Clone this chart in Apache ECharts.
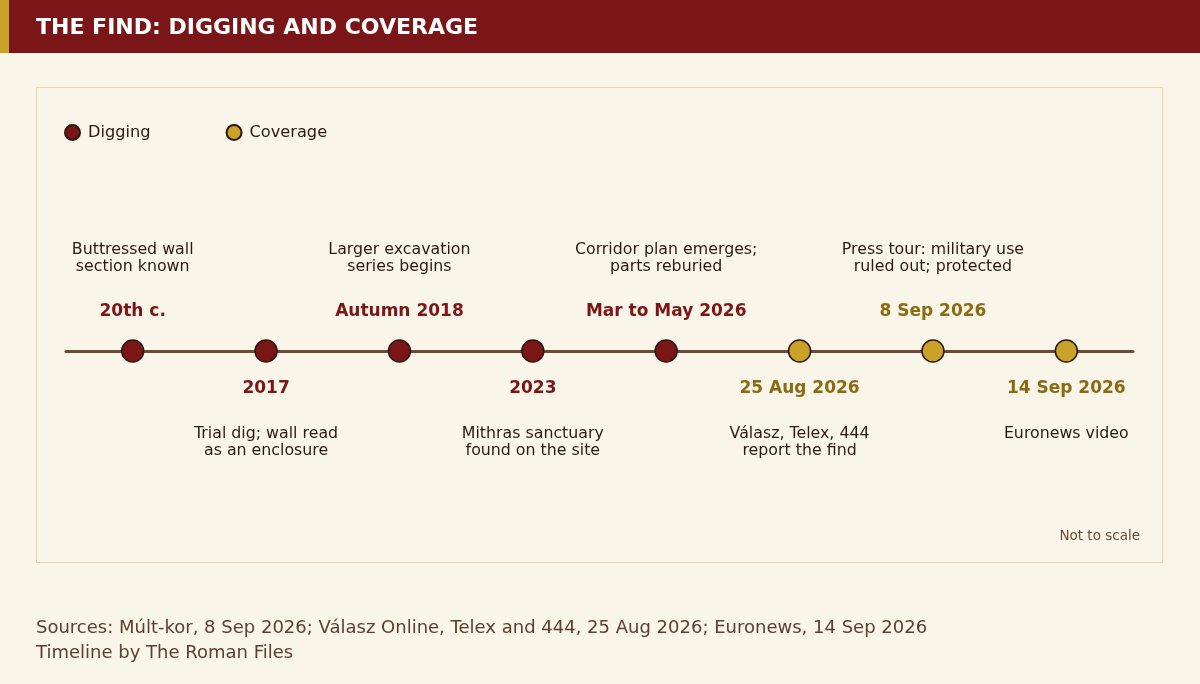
<!DOCTYPE html>
<html>
<head>
<meta charset="utf-8">
<script src="https://cdn.jsdelivr.net/npm/echarts@6/dist/echarts.min.js"></script>
<style>
html,body{margin:0;padding:0;background:#FAF5E9;}
#chart{width:1200px;height:684px;}
</style>
</head>
<body>
<div id="chart"></div>
<script>
const dates = ['20th c.', '2017', 'Autumn 2018', '2023', 'Mar to May 2026', '25 Aug 2026', '8 Sep 2026', '14 Sep 2026'];
const notes = [
  'Buttressed wall\nsection known',
  'Trial dig; wall read\nas an enclosure',
  'Larger excavation\nseries begins',
  'Mithras sanctuary\nfound on the site',
  'Corridor plan emerges;\nparts reburied',
  'Válasz, Telex, 444\nreport the find',
  'Press tour: military use\nruled out; protected',
  'Euronews video'
];
const kinds = ['Digging', 'Digging', 'Digging', 'Digging', 'Digging', 'Coverage', 'Coverage', 'Coverage'];
const groups = ['Digging', 'Coverage'];

const FONT = '"DejaVu Sans", Verdana, sans-serif';
const dotColor = { Digging: '#7B1618', Coverage: '#C9A227' };
const dateColor = { Digging: '#7B1618', Coverage: '#8A6A12' };
const noteColor = '#2A1A12';

function makeSeries(kind) {
  const data = [];
  dates.forEach((d, i) => {
    if (kinds[i] !== kind) return;
    const above = i % 2 === 0;
    data.push({
      value: [i, 0],
      label: {
        position: above ? 'top' : 'bottom',
        distance: above ? 18 : 16,
        formatter: above
          ? '{n|' + notes[i] + '}\n{g| }\n{d|' + dates[i] + '}'
          : '{d|' + dates[i] + '}\n{g2| }\n{n|' + notes[i] + '}'
      }
    });
  });
  return {
    name: kind,
    type: 'scatter',
    symbol: 'circle',
    symbolSize: 22,
    z: 5,
    itemStyle: { color: dotColor[kind], borderColor: '#2A1810', borderWidth: 1.5, opacity: 1 },
    emphasis: { disabled: true },
    label: {
      show: true,
      align: 'center',
      fontFamily: FONT,
      rich: {
        n: { fontSize: 15.8, lineHeight: 17, color: noteColor, fontFamily: FONT, align: 'center' },
        g: { fontSize: 4, lineHeight: 26, align: 'center' },
        g2: { fontSize: 4, lineHeight: 27, align: 'center' },
        d: { fontSize: 17, lineHeight: 20, fontWeight: 'bold', color: dateColor[kind], fontFamily: FONT, align: 'center' }
      }
    },
    data: data
  };
}

const chart = echarts.init(document.getElementById('chart'), null, { renderer: 'canvas' });
chart.setOption({
  animation: false,
  backgroundColor: '#FAF5E9',
  textStyle: { fontFamily: FONT },
  graphic: [
    { type: 'rect', z: -10, shape: { x: 36.5, y: 87.5, width: 1126, height: 475 }, style: { fill: '#FAF5E9', stroke: '#E6D5A6', lineWidth: 1 } },
    { type: 'rect', shape: { x: 0, y: 0, width: 1200, height: 53 }, style: { fill: '#7B1618' } },
    { type: 'rect', shape: { x: 0, y: 0, width: 9, height: 53 }, style: { fill: '#C9A227' } },
    { type: 'text', x: 36, y: 28, style: { text: 'THE FIND: DIGGING AND COVERAGE', fill: '#FFFFFF', font: 'bold 22px ' + FONT, textVerticalAlign: 'middle', verticalAlign: 'middle' } },
    { type: 'text', x: 1140, y: 536, style: { text: 'Not to scale', fill: '#6B4A3A', font: '13.5px ' + FONT, align: 'right', textAlign: 'right', verticalAlign: 'middle', textVerticalAlign: 'middle' } },
    { type: 'text', x: 36, y: 628, style: { text: 'Sources: Múlt-kor, 8 Sep 2026; Válasz Online, Telex and 444, 25 Aug 2026; Euronews, 14 Sep 2026', fill: '#5C4033', font: '18px ' + FONT, verticalAlign: 'middle', textVerticalAlign: 'middle' } },
    { type: 'text', x: 36, y: 653, style: { text: 'Timeline by The Roman Files', fill: '#5C4033', font: '18px ' + FONT, verticalAlign: 'middle', textVerticalAlign: 'middle' } }
  ],
  legend: {
    data: groups,
    left: 59,
    top: 119,
    icon: 'circle',
    itemWidth: 15,
    itemHeight: 15,
    itemGap: 75,
    textStyle: { fontSize: 16.2, color: noteColor, fontFamily: FONT, padding: [0, 0, 0, 3] }
  },
  grid: { left: 66, right: 67, top: 251, bottom: 233 },
  xAxis: {
    type: 'value',
    min: -0.5,
    max: 7.5,
    axisLine: { show: true, onZero: true, lineStyle: { color: '#6B4A3A', width: 3 } },
    axisTick: { show: false },
    axisLabel: { show: false },
    splitLine: { show: false }
  },
  yAxis: {
    type: 'value',
    min: -1,
    max: 1,
    show: false,
    splitLine: { show: false }
  },
  series: groups.map(makeSeries)
});
</script>
</body>
</html>
